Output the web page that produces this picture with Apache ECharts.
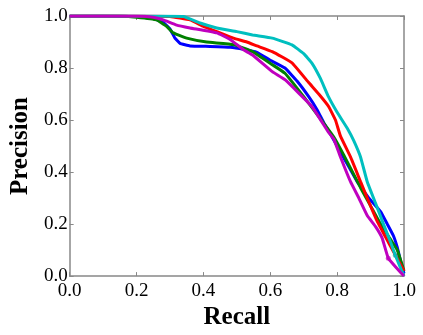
<!DOCTYPE html>
<html>
<head>
<meta charset="utf-8">
<script src="https://cdn.jsdelivr.net/npm/echarts@6/dist/echarts.min.js"></script>
<style>
  html, body { margin: 0; padding: 0; background: #fff; }
  #chart { width: 423px; height: 335px; }
</style>
</head>
<body>
<div id="chart"></div>
<script>
// [recall, precision] pairs
const blueCurve = [
  [0, 1], [0.1, 1], [0.2, 0.998], [0.25, 0.99], [0.28, 0.975], [0.3, 0.95],
  [0.315, 0.915], [0.33, 0.895], [0.36, 0.885], [0.42, 0.883], [0.48, 0.88],
  [0.52, 0.872], [0.56, 0.86], [0.6, 0.83], [0.644, 0.8], [0.68, 0.75],
  [0.715, 0.69], [0.74, 0.64], [0.76, 0.59], [0.785, 0.535], [0.81, 0.477],
  [0.835, 0.42], [0.86, 0.363], [0.895, 0.3], [0.93, 0.248], [0.95, 0.2],
  [0.968, 0.156], [0.98, 0.11], [0.99, 0.057], [1.0, 0.01]
];
const greenCurve = [
  [0, 1], [0.15, 1], [0.2, 0.995], [0.26, 0.985], [0.29, 0.96], [0.31, 0.935],
  [0.35, 0.915], [0.41, 0.9], [0.49, 0.89], [0.547, 0.863], [0.606, 0.813],
  [0.644, 0.78], [0.7, 0.69], [0.744, 0.615], [0.79, 0.535], [0.82, 0.465],
  [0.87, 0.34], [0.9, 0.27], [0.93, 0.2], [0.96, 0.14], [0.98, 0.1], [1.0, 0.02]
];
const redCurve = [
  [0, 1], [0.2, 1], [0.3, 0.998], [0.36, 0.985], [0.4, 0.96], [0.44, 0.94],
  [0.49, 0.915], [0.53, 0.9], [0.56, 0.885], [0.606, 0.863], [0.665, 0.82],
  [0.715, 0.744], [0.745, 0.7], [0.774, 0.653], [0.795, 0.6], [0.81, 0.538],
  [0.84, 0.458], [0.87, 0.363], [0.895, 0.285], [0.92, 0.21], [0.945, 0.15],
  [0.968, 0.095], [0.985, 0.055], [1.0, 0.02]
];
const cyanCurve = [
  [0, 1], [0.25, 1], [0.34, 0.998], [0.39, 0.973], [0.44, 0.954], [0.5, 0.94],
  [0.547, 0.927], [0.606, 0.915], [0.665, 0.889], [0.7, 0.855], [0.724, 0.82],
  [0.75, 0.76], [0.774, 0.69], [0.8, 0.63], [0.832, 0.565], [0.85, 0.52],
  [0.87, 0.458], [0.89, 0.363], [0.915, 0.28], [0.94, 0.195], [0.96, 0.13],
  [0.974, 0.08], [1.0, 0.0]
];
const magentaCurve = [
  [0, 1], [0.2, 1], [0.25, 0.995], [0.28, 0.985], [0.32, 0.965], [0.36, 0.954],
  [0.44, 0.935], [0.48, 0.91], [0.52, 0.87], [0.547, 0.85], [0.606, 0.786],
  [0.644, 0.755], [0.724, 0.653], [0.774, 0.553], [0.79, 0.527], [0.81, 0.458],
  [0.84, 0.363], [0.865, 0.3], [0.89, 0.233], [0.915, 0.19], [0.935, 0.145],
  [0.953, 0.069], [1.0, 0.0]
];
// small circle markers near the ends
const endMarkers = [
  { pt: [0.953, 0.069], color: "#bf00bf" },
  { pt: [0.974, 0.08], color: "#00bfbf" }
];
const tickValues = ["0.0", "0.2", "0.4", "0.6", "0.8", "1.0"];

const chart = echarts.init(document.getElementById("chart"));

const axisColor = "#888";
const labelFont = { fontFamily: "Liberation Serif", fontSize: 19, color: "#000" };
const nameFont = { fontFamily: "Liberation Serif", fontSize: 25, fontWeight: "bold", color: "#000" };

const baseAxis = {
  type: "value",
  min: 0,
  max: 1,
  interval: 0.2,
  axisLine: { show: true, onZero: false, lineStyle: { color: axisColor, width: 1.5 } },
  axisTick: { show: true, inside: true, length: 4, lineStyle: { color: axisColor } },
  splitLine: { show: false }
};

const lineSeries = (data, color) => ({
  type: "line",
  data: data,
  showSymbol: false,
  smooth: 0.1,
  lineStyle: { color: color, width: 3 },
  itemStyle: { color: color },
  silent: true
});

const option = {
  animation: false,
  grid: { left: 64, right: 19, top: 16, bottom: 57, containLabel: false },
  xAxis: [
    Object.assign({}, baseAxis, {
      position: "bottom",
      name: "Recall",
      nameLocation: "middle",
      nameGap: 26,
      nameTextStyle: nameFont,
      axisLabel: Object.assign({ margin: 5, formatter: v => tickValues[Math.round(v * 5)] }, labelFont)
    }),
    Object.assign({}, baseAxis, { position: "top", axisLabel: { show: false } })
  ],
  yAxis: [
    Object.assign({}, baseAxis, {
      position: "left",
      name: "Precision",
      nameLocation: "middle",
      nameGap: 32,
      nameTextStyle: nameFont,
      axisLabel: Object.assign({ margin: 2, formatter: v => tickValues[Math.round(v * 5)] }, labelFont)
    }),
    Object.assign({}, baseAxis, { position: "right", axisLabel: { show: false } })
  ],
  series: [
    lineSeries(blueCurve, "#0000ff"),
    lineSeries(greenCurve, "#008000"),
    lineSeries(redCurve, "#ff0000"),
    lineSeries(cyanCurve, "#00bfbf"),
    lineSeries(magentaCurve, "#bf00bf"),
    {
      type: "scatter",
      symbolSize: 5,
      silent: true,
      data: endMarkers.map(m => ({
        value: m.pt,
        itemStyle: { color: m.color, opacity: 0.7 }
      }))
    }
  ]
};

chart.setOption(option);
</script>
</body>
</html>
